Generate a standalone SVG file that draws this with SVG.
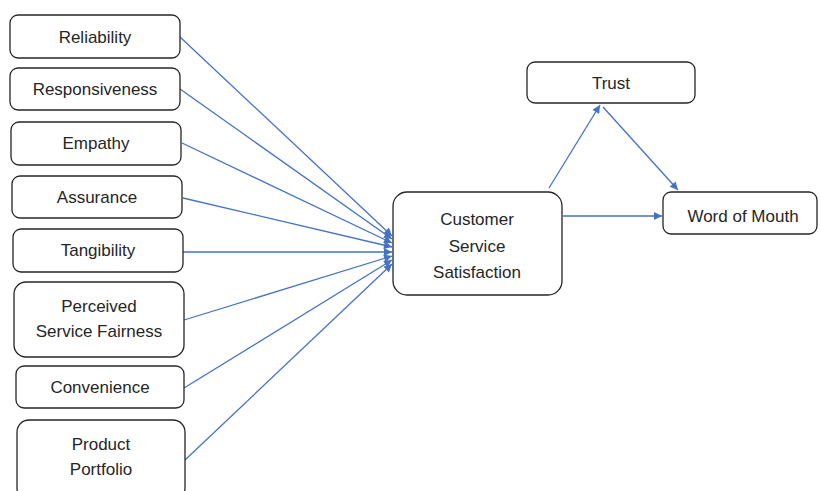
<svg xmlns="http://www.w3.org/2000/svg" width="821" height="491" viewBox="0 0 821 491">
<style>
.box{fill:#fff;stroke:#262626;stroke-width:1.3}
.t{font-family:"Liberation Sans",Arial,sans-serif;font-size:17px;fill:#262626;text-anchor:middle}
.c{stroke:#4472C4;stroke-width:1.3;fill:none;marker-end:url(#ah)}
</style>
<defs>
<marker id="ah" viewBox="0 0 10 10" refX="10" refY="5" markerWidth="10" markerHeight="8" markerUnits="userSpaceOnUse" orient="auto">
<path d="M0,0 L10,5 L0,10 Z" fill="#4472C4"/>
</marker>
</defs>
<rect width="821" height="491" fill="#fff"/>
<g id="connectors">
<line class="c" x1="180" y1="37" x2="392" y2="236"/>
<line class="c" x1="180" y1="89" x2="392" y2="239"/>
<line class="c" x1="182" y1="143" x2="392" y2="243"/>
<line class="c" x1="183" y1="198" x2="392" y2="247"/>
<line class="c" x1="183" y1="252" x2="392" y2="252"/>
<line class="c" x1="184" y1="320" x2="392" y2="256"/>
<line class="c" x1="184" y1="388" x2="392" y2="260"/>
<line class="c" x1="185" y1="460" x2="392" y2="264"/>
<line class="c" x1="549" y1="188" x2="600" y2="105"/>
<line class="c" x1="603" y1="107" x2="678" y2="190"/>
<line class="c" x1="563" y1="216" x2="662" y2="216"/>
</g>
<g id="reliability"><rect class="box" x="10" y="15" width="170" height="43" rx="8"/><text class="t" x="95" y="43">Reliability</text></g>
<g id="responsiveness"><rect class="box" x="10" y="68" width="170" height="42" rx="8"/><text class="t" x="95" y="95">Responsiveness</text></g>
<g id="empathy"><rect class="box" x="11" y="122" width="170" height="43" rx="8"/><text class="t" x="96" y="149">Empathy</text></g>
<g id="assurance"><rect class="box" x="12" y="176" width="170" height="42" rx="8"/><text class="t" x="97" y="203">Assurance</text></g>
<g id="tangibility"><rect class="box" x="13" y="229" width="170" height="43" rx="8"/><text class="t" x="98" y="256">Tangibility</text></g>
<g id="perceived"><rect class="box" x="14" y="282" width="170" height="75" rx="12"/><text class="t" x="99" y="312">Perceived</text><text class="t" x="99" y="337">Service Fairness</text></g>
<g id="convenience"><rect class="box" x="16" y="366" width="168" height="42" rx="8"/><text class="t" x="100" y="393">Convenience</text></g>
<g id="portfolio"><rect class="box" x="17" y="420" width="168" height="80" rx="12"/><text class="t" x="101" y="450">Product</text><text class="t" x="101" y="475">Portfolio</text></g>
<g id="satisfaction"><rect class="box" x="393" y="192" width="169" height="103" rx="14"/><text class="t" x="477" y="225">Customer</text><text class="t" x="477" y="252">Service</text><text class="t" x="477" y="278">Satisfaction</text></g>
<g id="trust"><rect class="box" x="527" y="62" width="168" height="41" rx="8"/><text class="t" x="611" y="89">Trust</text></g>
<g id="wom"><rect class="box" x="663" y="192" width="154" height="42" rx="8"/><text class="t" x="743" y="222">Word of Mouth</text></g>
</svg>
